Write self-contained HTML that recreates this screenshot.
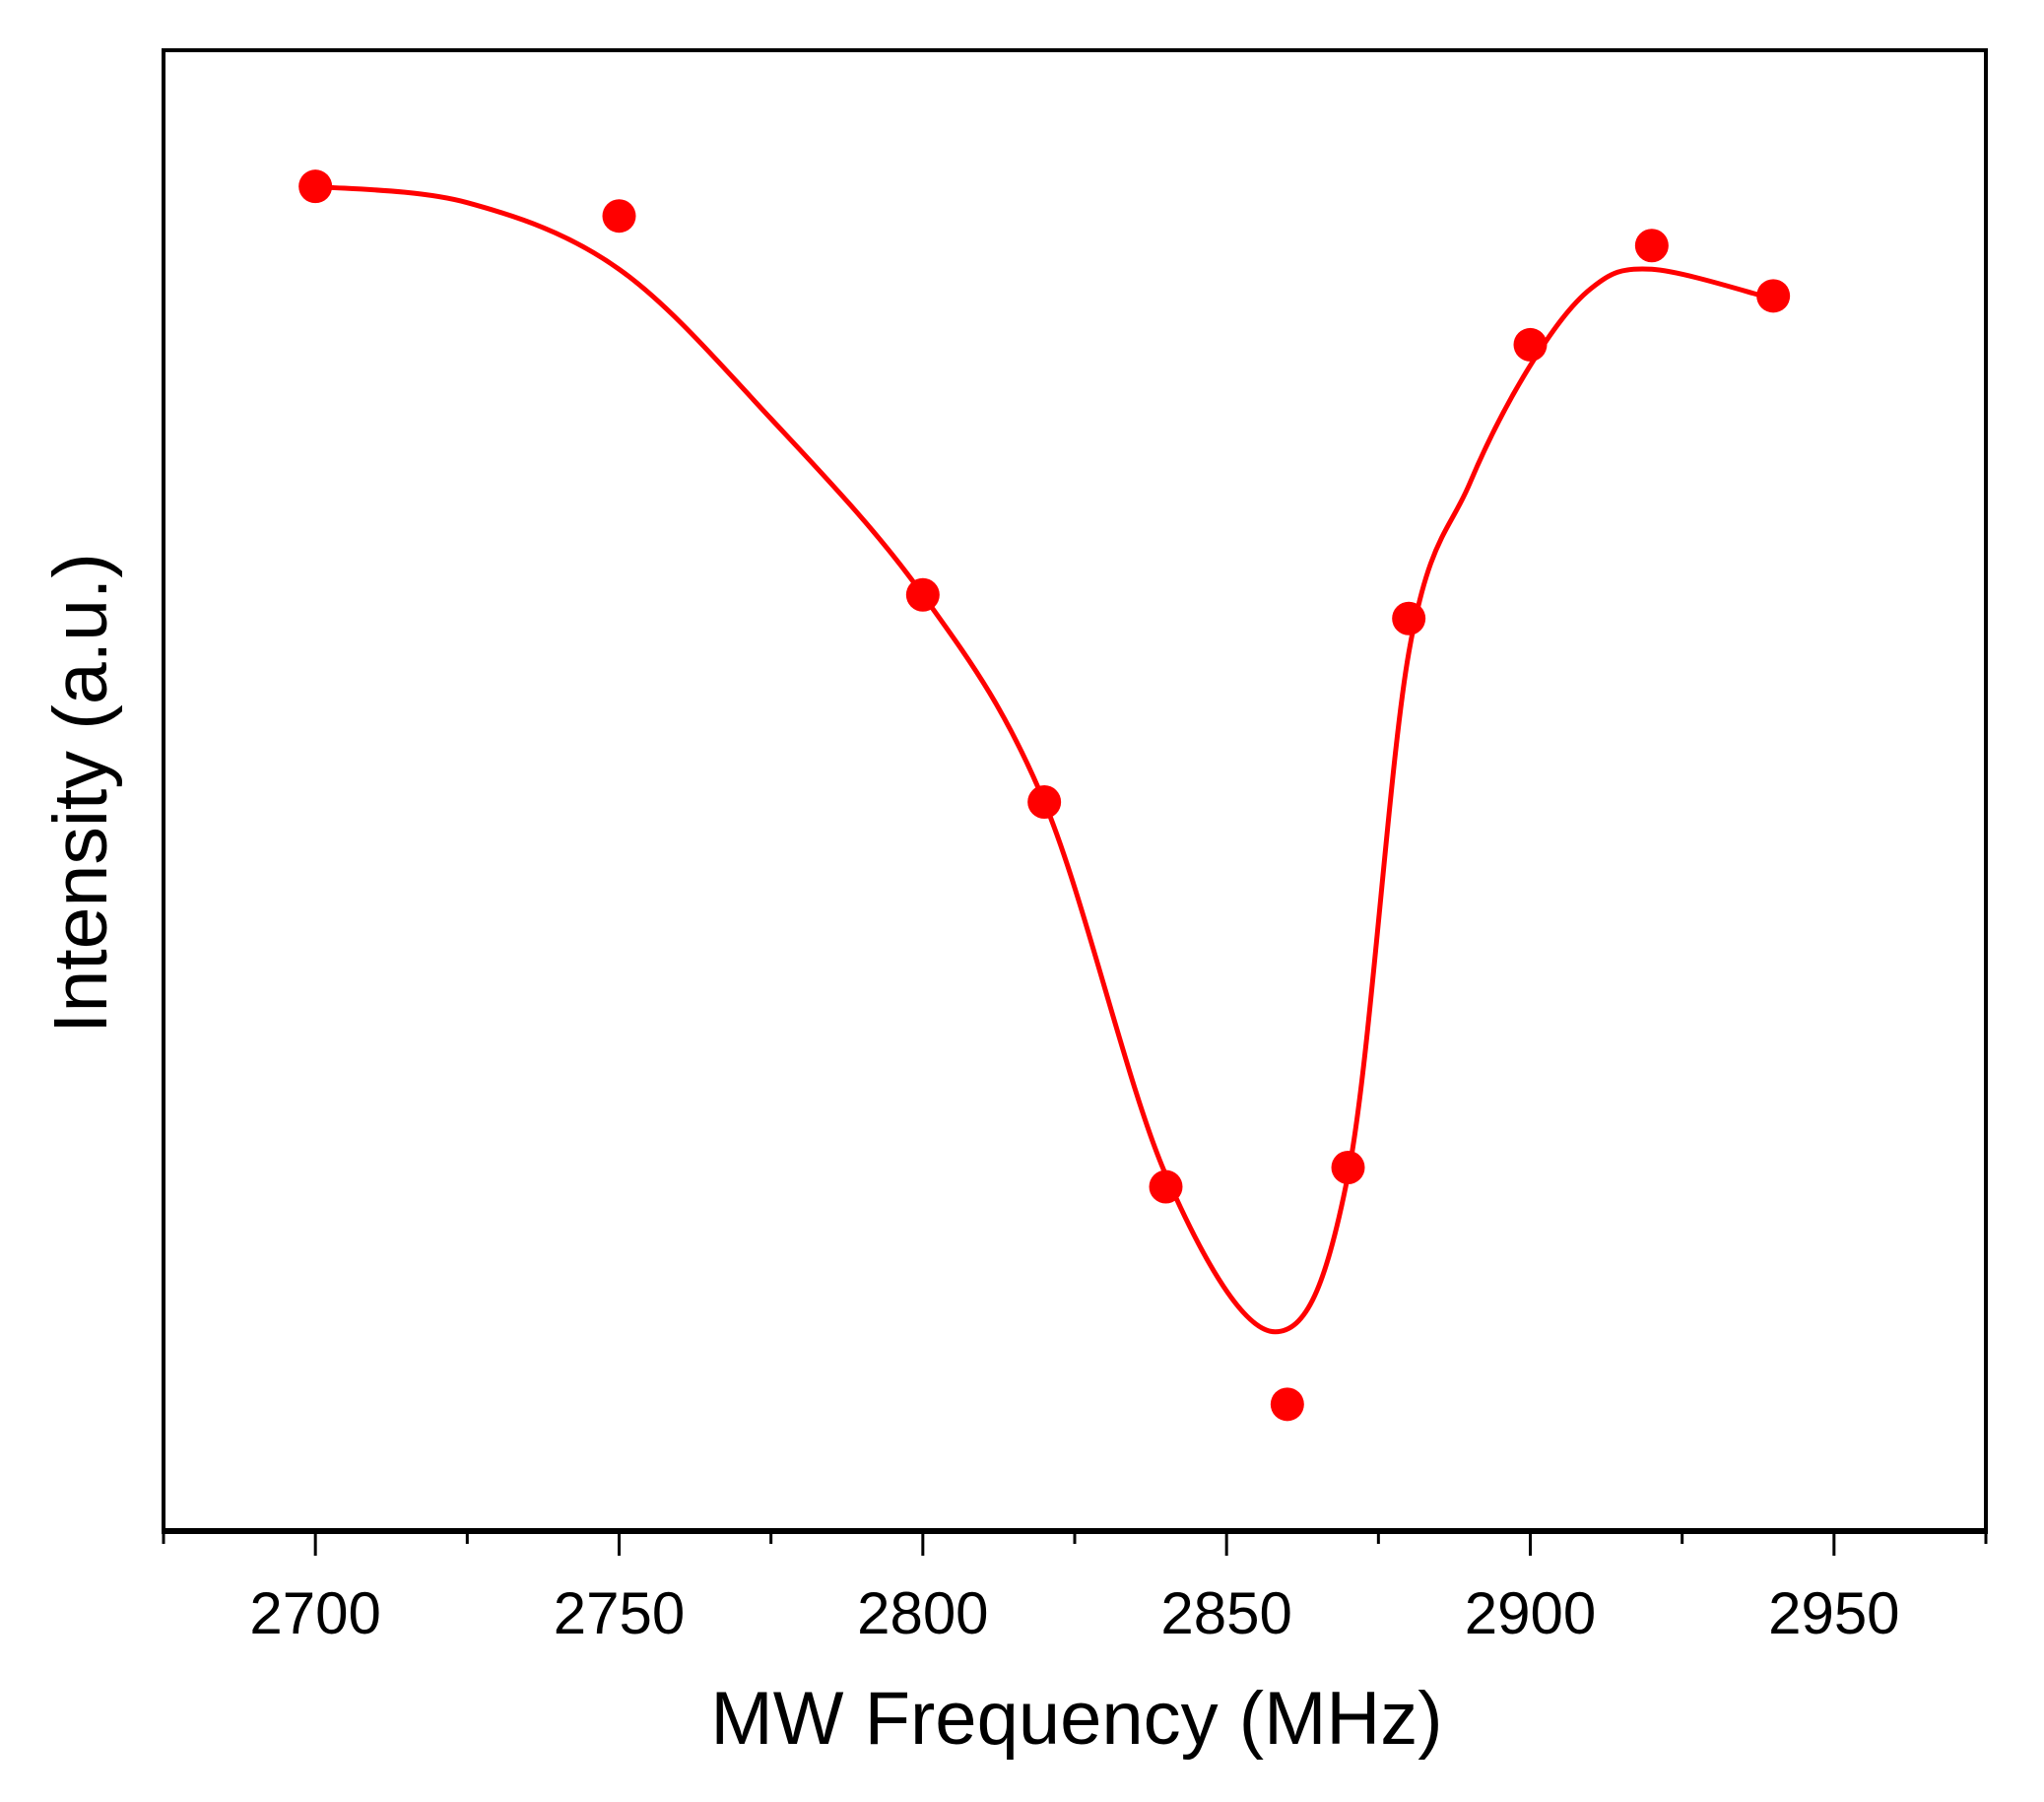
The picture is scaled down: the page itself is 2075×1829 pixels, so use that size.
<!DOCTYPE html>
<html><head><meta charset="utf-8"><style>
html,body{margin:0;padding:0;background:#fff;}
svg{display:block;font-family:"Liberation Sans",Arial,sans-serif;}
</style></head><body>
<svg id="chart" width="2075" height="1829" viewBox="0 0 2075 1829">
<rect x="0" y="0" width="2075" height="1829" fill="#fff"/>
<g id="plot"></g>
<rect x="166" y="51" width="1850" height="1502" fill="none" stroke="#000" stroke-width="4"/>
<line x1="164" y1="1554" x2="2018" y2="1554" stroke="#000" stroke-width="6"/>
<g id="xticks"></g>
<text x="1093" y="1770" font-size="76" text-anchor="middle">MW Frequency (MHz)</text>
<text transform="translate(108,805) rotate(-90)" font-size="77" text-anchor="middle">Intensity (a.u.)</text>
</svg>
<script>
const freqs = [2700, 2750, 2800, 2820, 2840, 2860, 2870, 2880, 2900, 2920, 2940];
const intensity = [90.8, 88.8, 63.2, 49.2, 23.2, 8.5, 24.5, 61.6, 80.1, 86.8, 83.4];
const fitFreqs = [2700, 2725, 2750, 2775, 2800, 2820, 2840, 2858, 2870, 2880, 2890, 2900, 2910, 2920, 2940];
const fitValues = [90.8, 89.7, 85.2, 75.1, 63.2, 49.2, 24.0, 13.4, 24.0, 59.3, 70.7, 78.7, 83.9, 85.2, 83.2];
const majorTicks = [2700, 2750, 2800, 2850, 2900, 2950];
const minorTicks = [2675, 2725, 2775, 2825, 2875, 2925, 2975];

const NS = "http://www.w3.org/2000/svg";
const X0 = 166, X1 = 2016, Y0 = 1553, Y1 = 51;
const xMin = 2675, xMax = 2975, yMin = 0, yMax = 100;
function sx(v){ return X0 + (v - xMin) / (xMax - xMin) * (X1 - X0); }
function sy(v){ return Y0 - (v - yMin) / (yMax - yMin) * (Y0 - Y1); }
function mk(tag, attrs, parent){
  const e = document.createElementNS(NS, tag);
  for (const k in attrs) e.setAttribute(k, attrs[k]);
  parent.appendChild(e); return e;
}
const plot = document.getElementById('plot');
const xt = document.getElementById('xticks');

const pts = fitFreqs.map((f, i) => [sx(f), sy(fitValues[i])]);
let d = `M${pts[0][0]},${pts[0][1]}`;
for (let i = 0; i < pts.length - 1; i++) {
  const p0 = pts[i - 1] || pts[i], p1 = pts[i], p2 = pts[i + 1], p3 = pts[i + 2] || p2;
  const c1 = [p1[0] + (p2[0] - p0[0]) / 6, p1[1] + (p2[1] - p0[1]) / 6];
  const c2 = [p2[0] - (p3[0] - p1[0]) / 6, p2[1] - (p3[1] - p1[1]) / 6];
  d += ` C${c1[0]},${c1[1]} ${c2[0]},${c2[1]} ${p2[0]},${p2[1]}`;
}
const line = mk('path', {d: d, fill: 'none', stroke: '#ff0000', 'stroke-width': 5, 'stroke-linejoin': 'round'}, plot);



freqs.forEach((f, i) => {
  const c = mk('circle', {cx: sx(f), cy: sy(intensity[i]), r: 17, fill: '#ff0000'}, plot);
  
  
});

majorTicks.forEach(t => {
  const l = mk('line', {x1: sx(t), x2: sx(t), y1: 1553, y2: 1579, stroke: '#000', 'stroke-width': 3}, xt);
  
  
  const tx = mk('text', {x: sx(t), y: 1658, 'font-size': 60, 'text-anchor': 'middle'}, xt);
  tx.textContent = t;
  
  
});
minorTicks.forEach(t => {
  const l = mk('line', {x1: sx(t), x2: sx(t), y1: 1553, y2: 1567, stroke: '#000', 'stroke-width': 3}, xt);
  
  
});
</script>
</body></html>
